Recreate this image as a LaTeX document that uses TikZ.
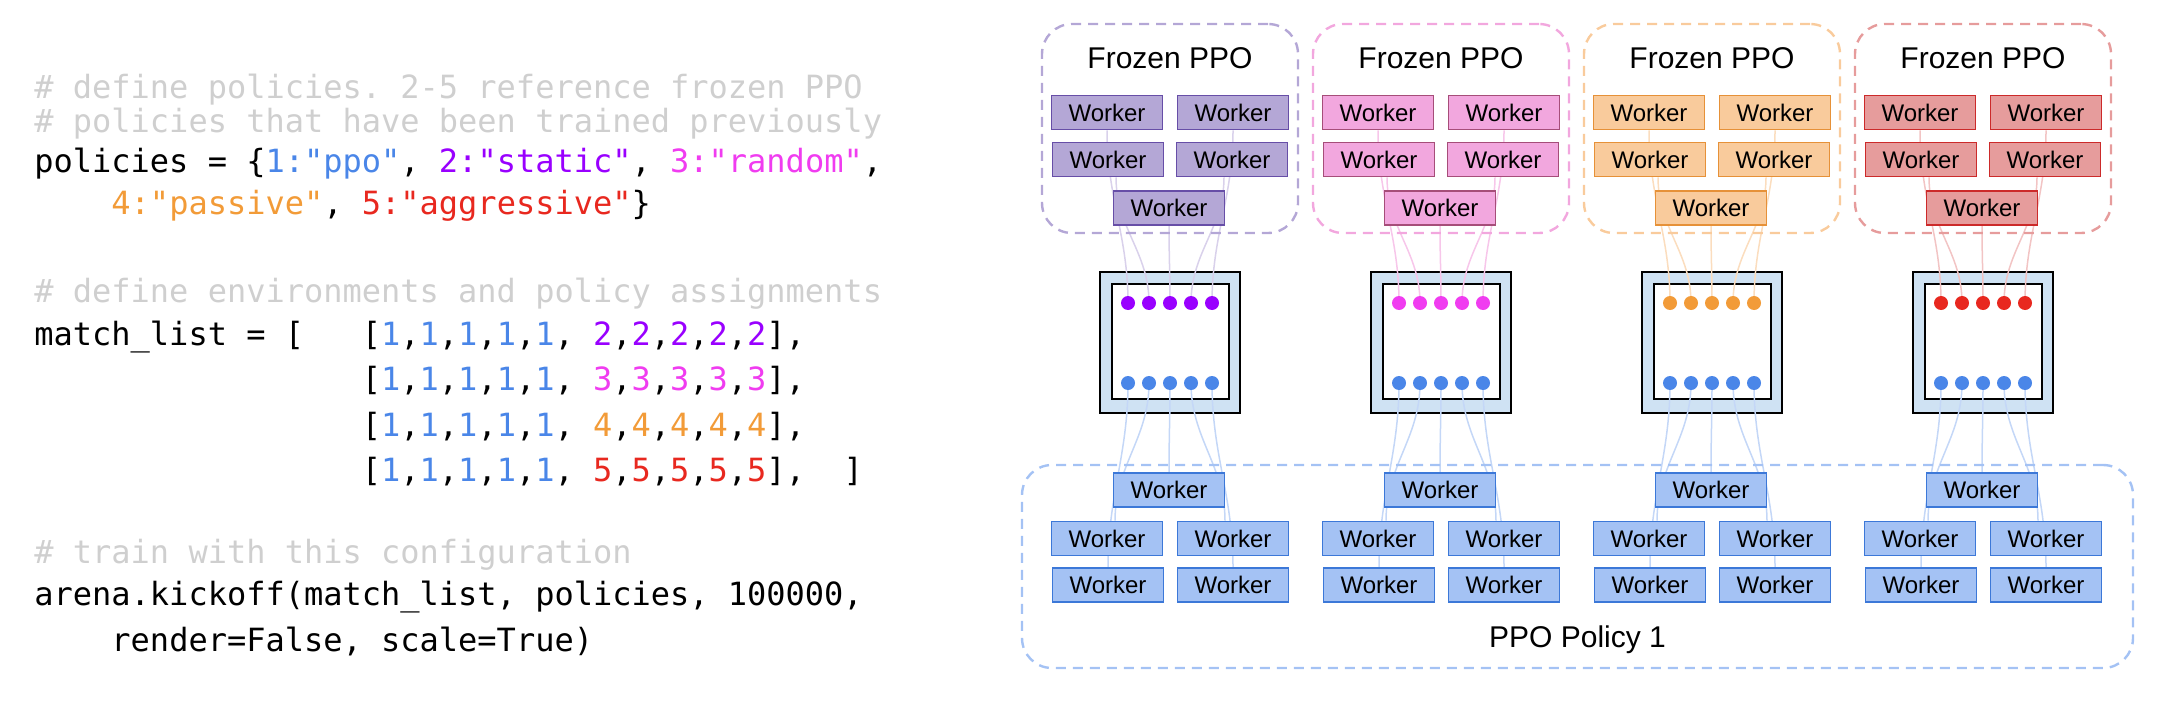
\documentclass[tikz,border=0pt]{standalone}
\usepackage{fontspec}
\setsansfont{Liberation Sans}
\setmonofont{DejaVu Sans Mono}
\usetikzlibrary{positioning}

% code colours
\definecolor{cone}{HTML}{4A86E8}
\definecolor{ctwo}{HTML}{9900FF}
\definecolor{cthree}{HTML}{F03CF0}
\definecolor{cfour}{HTML}{F29B38}
\definecolor{cfive}{HTML}{E8281F}
\definecolor{ccomment}{HTML}{CFCFCF}
% worker colours
\definecolor{fillpu}{HTML}{B4A7D6} \definecolor{drawpu}{HTML}{674EA7} \definecolor{linkpu}{HTML}{D9D1EB}
\definecolor{fillpk}{HTML}{F2A7DE} \definecolor{drawpk}{HTML}{A64D79} \definecolor{linkpk}{HTML}{F7C6EA}
\definecolor{fillor}{HTML}{F9CB9C} \definecolor{drawor}{HTML}{E69138} \definecolor{linkor}{HTML}{FBDDBE}
\definecolor{fillrd}{HTML}{E69C9C} \definecolor{drawrd}{HTML}{CC2A2A} \definecolor{linkrd}{HTML}{F2C4C4}
\definecolor{fillbl}{HTML}{A4C2F4} \definecolor{drawbl}{HTML}{3C78D8} \definecolor{linkbl}{HTML}{C4D7F7}
\definecolor{envblue}{HTML}{CFE2F3}

\newcommand\codefont{\ttfamily\fontsize{16}{19}\selectfont\frenchspacing}
\newcommand\digs[2]{\textcolor{#1}{#2},\textcolor{#1}{#2},\textcolor{#1}{#2},\textcolor{#1}{#2},\textcolor{#1}{#2}}

\pgfdeclarelayer{back}
\pgfdeclarelayer{links}
\pgfsetlayers{back,links,main}

\tikzstyle{code} = [anchor=base west, inner sep=0pt, font=\codefont]
\tikzstyle{comment} = [code, text=ccomment]
\tikzstyle{worker} = [rectangle, minimum width=55.5pt, minimum height=17pt, inner sep=0pt, line width=0.8pt, font=\sffamily\fontsize{12}{14}\selectfont]
\tikzstyle{frozen} = [rectangle, rounded corners=15pt, minimum width=128pt, minimum height=104.5pt, line width=1.2pt, dash pattern=on 5pt off 3.5pt]
\tikzstyle{title} = [font=\sffamily\fontsize{15}{18}\selectfont]
\tikzstyle{envout} = [rectangle, draw=black, fill=envblue, line width=1pt, minimum width=70pt, minimum height=70.5pt]
\tikzstyle{envin} = [rectangle, draw=black, fill=white, line width=1pt, minimum width=58.5pt, minimum height=57.5pt]
\tikzstyle{dot} = [circle, minimum size=7pt, inner sep=0pt]
\tikzstyle{link} = [line width=0.75pt]

\begin{document}
\begin{tikzpicture}[x=0.5pt, y=-0.5pt]
		\useasboundingbox (0,0) rectangle (2158,706);
		% the code
		\node (c1) [comment] at (34,98) {\# define policies. 2-5 reference frozen PPO};
		\node (c2) [comment] at (34,133) {\# policies that have been trained previously};
		\node (c3) [code] at (34,172) {policies = \{\textcolor{cone}{1:"ppo"}, \textcolor{ctwo}{2:"static"}, \textcolor{cthree}{3:"random"},};
		\node (c4) [code] at (34,214) {\ \ \ \ \textcolor{cfour}{4:"passive"}, \textcolor{cfive}{5:"aggressive"}\}};
		\node (c5) [comment] at (34,302) {\# define environments and policy assignments};
		\node (c6) [code] at (34,345) {match\_list = [\ \ \ [\digs{cone}{1}, \digs{ctwo}{2}],};
		\node (c7) [code] at (34,390) {\phantom{match\_list = [\ \ \ }[\digs{cone}{1}, \digs{cthree}{3}],};
		\node (c8) [code] at (34,436) {\phantom{match\_list = [\ \ \ }[\digs{cone}{1}, \digs{cfour}{4}],};
		\node (c9) [code] at (34,481) {\phantom{match\_list = [\ \ \ }[\digs{cone}{1}, \digs{cfive}{5}],\ \ ]};
		\node (c10) [comment] at (34,563) {\# train with this configuration};
		\node (c11) [code] at (34,605) {arena.kickoff(match\_list, policies, 100000,};
		\node (c12) [code] at (34,651) {\ \ \ \ render=False, scale=True)};

		% learning policy
		\node (pol) [frozen, draw=fillbl, minimum width=555.5pt, minimum height=101.5pt] at (1577.5,566.5) {};
		\node (polt) [title] at (1577.5,640) {PPO Policy 1};

		% one column per frozen policy
		\foreach \g/\c/\dc in {0/pu/ctwo, 1/pk/cthree, 2/or/cfour, 3/rd/cfive} {
			\pgfmathsetmacro\cx{1170+271*\g}
			\node (fz\g) [frozen, draw=fill\c] at (\cx,128.5) {};
			\node (ft\g) [title] at (\cx,58) {Frozen PPO};
			\node (fa\g) [worker, fill=fill\c, draw=draw\c] at (\cx-63,112.5) {Worker};
			\node (fb\g) [worker, fill=fill\c, draw=draw\c] at (\cx+63,112.5) {Worker};
			\node (fc\g) [worker, fill=fill\c, draw=draw\c] at (\cx-62,159.5) {Worker};
			\node (fd\g) [worker, fill=fill\c, draw=draw\c] at (\cx+62,159.5) {Worker};
			\node (fe\g) [worker, fill=fill\c, draw=draw\c] at (\cx-1,208) {Worker};
			\begin{pgfonlayer}{back}
				\node (env\g) [envout] at (\cx,342.5) {};
				\node (envin\g) [envin] at (\cx,341.5) {};
			\end{pgfonlayer}
			\foreach \k in {1,...,5} {
				\node (t\g\k) [dot, fill=\dc] at (\cx+21*\k-63,303) {};
				\node (b\g\k) [dot, fill=cone] at (\cx+21*\k-63,383) {};
			}
			\node (pa\g) [worker, fill=fillbl, draw=drawbl] at (\cx-1,490) {Worker};
			\node (pb\g) [worker, fill=fillbl, draw=drawbl] at (\cx-63,538.5) {Worker};
			\node (pc\g) [worker, fill=fillbl, draw=drawbl] at (\cx+63,538.5) {Worker};
			\node (pd\g) [worker, fill=fillbl, draw=drawbl] at (\cx-62,585) {Worker};
			\node (pe\g) [worker, fill=fillbl, draw=drawbl] at (\cx+63,585) {Worker};
			\begin{pgfonlayer}{links}
				\draw [link, draw=link\c] (fa\g.south) to[out=-90,in=90] (t\g1.center);
				\draw [link, draw=link\c] ([xshift=4pt]fc\g.south) to[out=-90,in=90] (t\g2.center);
				\draw [link, draw=link\c] (fe\g.south) to[out=-90,in=90] (t\g3.center);
				\draw [link, draw=link\c] ([xshift=-4pt]fd\g.south) to[out=-90,in=90] (t\g4.center);
				\draw [link, draw=link\c] (fb\g.south) to[out=-90,in=90] (t\g5.center);
				\draw [link, draw=linkbl] (b\g1.center) to[out=-90,in=90] (pd\g.north);
				\draw [link, draw=linkbl] (b\g2.center) to[out=-90,in=90] ([xshift=4pt]pb\g.north);
				\draw [link, draw=linkbl] (b\g3.center) to[out=-90,in=90] (pa\g.north);
				\draw [link, draw=linkbl] (b\g4.center) to[out=-90,in=90] ([xshift=-4pt]pc\g.north);
				\draw [link, draw=linkbl] (b\g5.center) to[out=-90,in=90] (pe\g.north);
			\end{pgfonlayer}
		}
	\end{tikzpicture}
\end{document}
